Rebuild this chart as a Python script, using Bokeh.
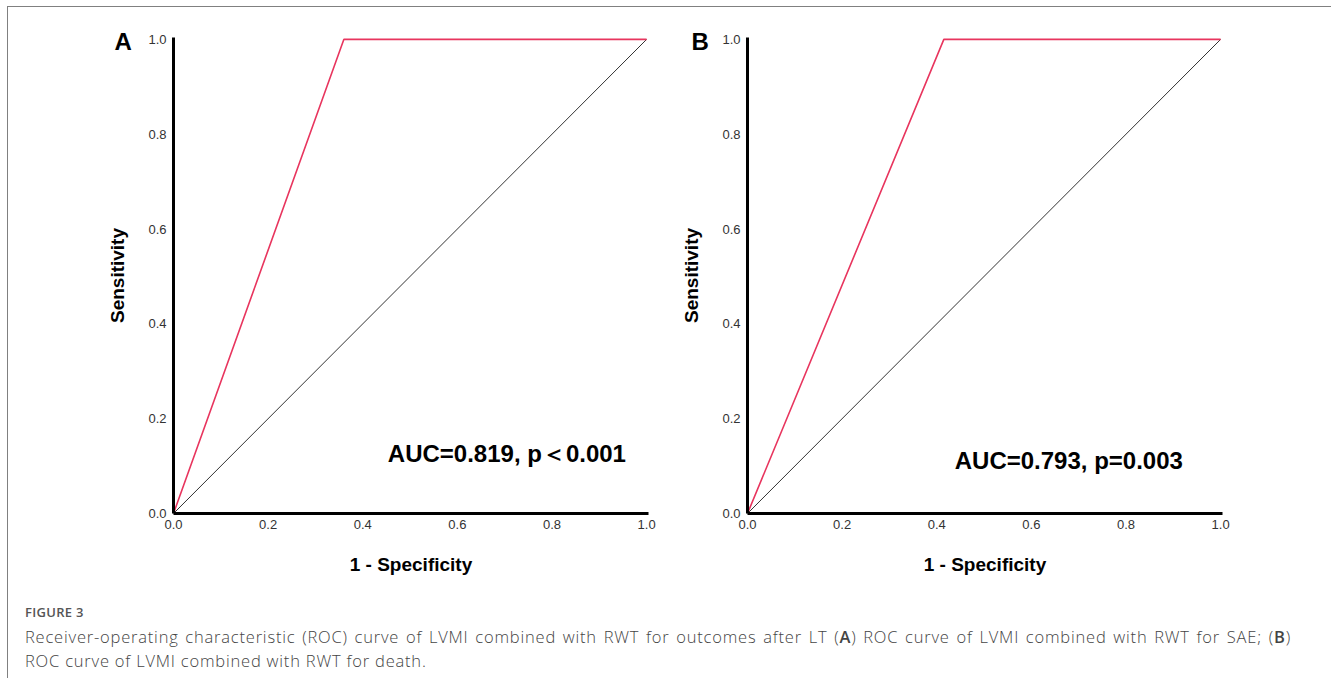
from bokeh.plotting import figure
from bokeh.layouts import row, column
from bokeh.models import Range1d, FixedTicker, Label, Div, Title
from bokeh.embed import file_html
from bokeh.resources import INLINE

# ---- data ----
diag_x = [0.0, 1.0]
diag_y = [0.0, 1.0]
roc_a_x = [0.0, 0.36, 1.0]
roc_a_y = [0.0, 1.0, 1.0]
roc_b_x = [0.0, 0.415, 1.0]
roc_b_y = [0.0, 1.0, 1.0]
tick_values = [0.0, 0.2, 0.4, 0.6, 0.8, 1.0]
tick_labels = ["0.0", "0.2", "0.4", "0.6", "0.8", "1.0"]
panel_letters = ["A", "B"]
auc_texts = ["AUC=0.819, p\uff1c0.001", "AUC=0.793, p=0.003"]
x_title = "1 - Specificity"
y_title = "Sensitivity"
caption_head = "FIGURE 3"

FONT = "Liberation Sans"
RED = "#e8355e"


def make_panel(width, left, right, rx, ry, letter, letter_off, auc, auc_x, auc_y):
    p = figure(width=width, height=576, output_backend="svg", toolbar_location=None,
               x_range=Range1d(0, 1.004), y_range=Range1d(0, 1.004),
               min_border_left=left, min_border_right=right,
               min_border_top=30, min_border_bottom=70)
    p.grid.visible = False
    p.outline_line_color = None
    p.background_fill_color = "white"
    p.border_fill_color = "white"
    for ax in (p.xaxis[0], p.yaxis[0]):
        ax.ticker = FixedTicker(ticks=tick_values)
        ax.major_label_overrides = {v: t for v, t in zip(tick_values, tick_labels)}
        ax.axis_line_width = 3
        ax.axis_line_color = "black"
        ax.major_tick_out = 0
        ax.major_tick_in = 0
        ax.minor_tick_out = 0
        ax.minor_tick_in = 0
        ax.major_label_text_font = FONT
        ax.major_label_text_font_size = "13px"
        ax.major_label_text_color = "#333333"
        ax.axis_label_text_font = FONT
        ax.axis_label_text_font_size = "19px"
        ax.axis_label_text_font_style = "bold"
        ax.axis_label_text_color = "black"
    p.xaxis.axis_label = x_title
    p.yaxis.axis_label = y_title
    p.xaxis.major_label_standoff = 6
    p.xaxis.axis_label_standoff = 22
    p.yaxis.major_label_standoff = 7
    p.yaxis.axis_label_standoff = 17

    p.line(diag_x, diag_y, line_color="#333333", line_width=1)
    p.line(rx, ry, line_color=RED, line_width=1.6)

    # panel letter as a title placed to the upper left of the frame
    p.add_layout(Title(text=letter, align="left", offset=letter_off, standoff=-35,
                       vertical_align="bottom", text_font=FONT, text_font_size="24px",
                       text_font_style="bold", text_color="black"), "above")
    p.add_layout(Label(x=auc_x, y=auc_y, text=auc, text_font=FONT,
                       text_font_size="24px", text_font_style="bold",
                       text_align="left", text_baseline="middle", text_color="black"))
    return p


pa = make_panel(667, 165, 27, roc_a_x, roc_a_y, panel_letters[0], -59,
                auc_texts[0], 0.453, 0.126)
pb = make_panel(656, 72, 109, roc_b_x, roc_b_y, panel_letters[1], -56,
                auc_texts[1], 0.438, 0.111)

caption_html = (
    "<div style=\"font-family:'Open Sans'; color:#444444; padding-left:17px; width:1283px;\">"
    "<div style='font-size:13px; font-weight:600; color:#555555; line-height:18px; margin-top:20px; letter-spacing:0.3px;'>"
    + caption_head +
    "</div>"
    "<div style='font-size:16.5px; font-weight:300; line-height:24px; margin-top:4px; letter-spacing:0.8px;'>"
    "<span style='display:block; text-align:justify; text-align-last:justify;'>"
    "Receiver-operating characteristic (ROC) curve of LVMI combined with RWT for outcomes after LT "
    "(<span style='font-weight:600'>A</span>) ROC curve of LVMI combined with RWT for SAE; (<span style='font-weight:600'>B</span>)"
    "</span>"
    "<span style='display:block;'>ROC curve of LVMI combined with RWT for death.</span>"
    "</div></div>"
)
cap = Div(text=caption_html, width=1315, height=95, margin=0)

top = row(pa, pb, spacing=0, margin=0)
layout = column(top, cap, spacing=0, margin=(6, 0, 0, 7),
                styles={"border-top": "1px solid #808080", "border-left": "1px solid #808080"})

open("out.html", "w").write(file_html(layout, INLINE))
